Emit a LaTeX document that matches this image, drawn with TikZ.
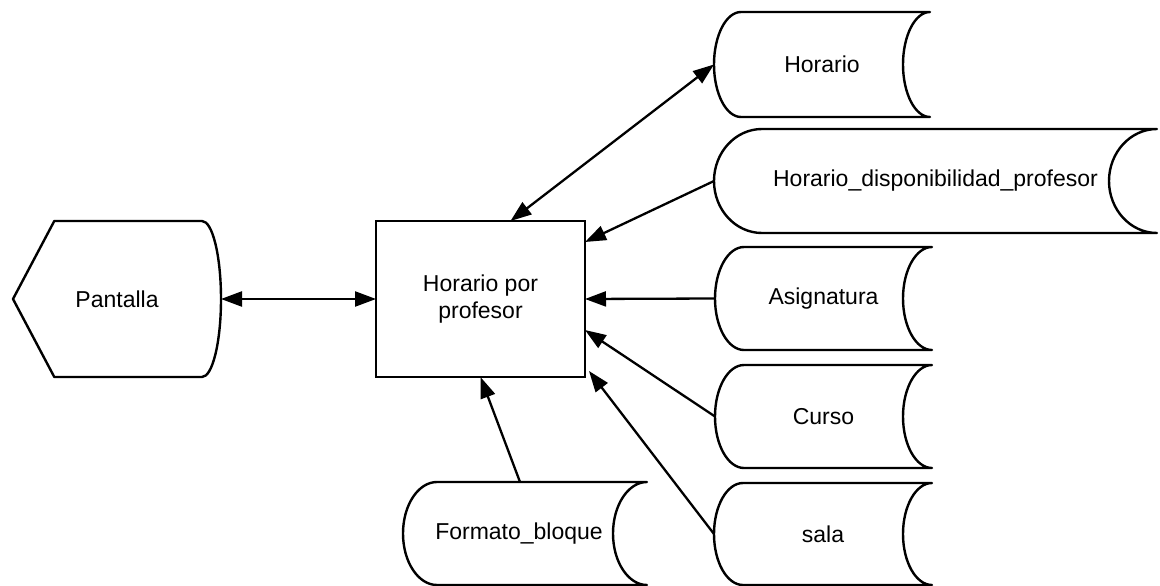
\documentclass[tikz,border=0pt]{standalone}
\usepackage{fontspec}
\setmainfont{Liberation Sans}
\usetikzlibrary{arrows.meta}
\newcommand\storeshape[3]{%
  \draw[shapeline] ([xshift=#2pt]#1.north west) -- (#1.north east)
    arc[start angle=90,end angle=270,x radius=#2pt,y radius=#3pt]
    -- ([xshift=#2pt]#1.south west)
    arc[start angle=270,end angle=90,x radius=#2pt,y radius=#3pt] -- cycle;}
\begin{document}
\begin{tikzpicture}[x=1pt,y=1pt,
  font=\fontsize{23}{27}\selectfont,
  shapeline/.style={line width=2.4pt,line join=round},
  holder/.style={inner sep=0pt,outer sep=0pt,align=center},
  conn/.style={line width=2.3pt,-{Triangle[length=21pt,width=15pt]}},
  bothconn/.style={line width=2.3pt,{Triangle[length=21pt,width=15pt]}-{Triangle[length=21pt,width=15pt]}}]
\useasboundingbox (0,0) rectangle (1160,-586);
% nodes
\node[holder,minimum width=208pt,minimum height=156pt] (pant) at (117,-299) {Pantalla};
\node[holder,draw,line width=2.9pt,minimum width=209pt,minimum height=156pt] (proc) at (480.5,-299) {Horario por\\profesor};
\node[holder,minimum width=216pt,minimum height=105pt] (hor) at (822,-64.5) {Horario};
\node[holder,minimum width=443pt,minimum height=104pt] (hdp) at (935.5,-181) {Horario\_disponibilidad\_profesor};
\node[holder,minimum width=217pt,minimum height=103pt] (asig) at (823.5,-298.5) {Asignatura};
\node[holder,minimum width=217pt,minimum height=103pt] (curso) at (823.5,-416.5) {Curso};
\node[holder,minimum width=218pt,minimum height=102pt] (sala) at (823,-534) {sala};
\node[holder,minimum width=244pt,minimum height=103pt] (form) at (525,-533.5) {\hspace*{-12pt}Formato\_bloque};
% display shape
\draw[shapeline] (pant.west) -- ([xshift=41.3pt]pant.north west) -- ([xshift=-19pt]pant.north east)
  arc[start angle=90,end angle=-90,x radius=19pt,y radius=78pt]
  -- ([xshift=41.3pt]pant.south west) -- cycle;
% stored data shapes
\storeshape{hor}{27}{52.5}
\storeshape{hdp}{48}{52}
\storeshape{asig}{29}{51.5}
\storeshape{curso}{29}{51.5}
\storeshape{sala}{29}{51}
\storeshape{form}{34}{51.5}
% connectors
\draw[bothconn] (pant.east) -- (proc.west);
\draw[bothconn] (hor.west) -- ([xshift=30pt]proc.north);
\draw[conn] (hdp.west) -- ([yshift=-21pt]proc.north east);
\draw[conn] (asig.west) -- (proc.east);
\draw[conn] (curso.west) -- ([yshift=-31pt]proc.east);
\draw[conn] (sala.west) -- ([xshift=4pt,yshift=6pt]proc.south east);
\draw[conn] ([xshift=-5pt]form.north) -- (proc.south);
\end{tikzpicture}
\end{document}
